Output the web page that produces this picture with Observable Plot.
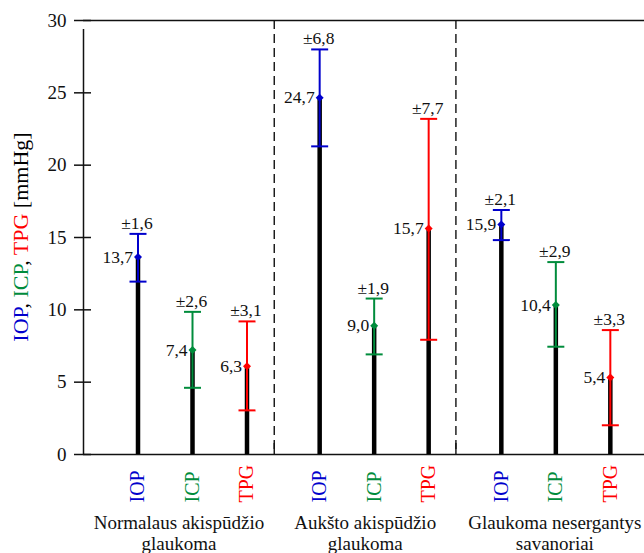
<!DOCTYPE html>
<html><head><meta charset="utf-8">
<script src="https://cdn.jsdelivr.net/npm/d3@7"></script>
<script src="https://cdn.jsdelivr.net/npm/@observablehq/plot@0.6"></script>
<style>body{margin:0;background:#fff} svg text{font-family:"Liberation Serif","Times New Roman",serif}</style>
</head><body><div id="chart"></div>
<script>
const groups = ["Normalaus akispūdžio\nglaukoma", "Aukšto akispūdžio\nglaukoma", "Glaukoma nesergantys\nsavanoriai"];
const measures = ["IOP", "ICP", "TPG"];
const measureColors = ["#0000cc", "#008c3c", "#ff0000"];
const meanLabels = [["13,7", "7,4", "6,3"], ["24,7", "9,0", "15,7"], ["15,9", "10,4", "5,4"]];
const sdLabels = [["±1,6", "±2,6", "±3,1"], ["±6,8", "±1,9", "±7,7"], ["±2,1", "±2,9", "±3,3"]];
const means = [[13.65, 7.23, 6.1], [24.66, 8.9, 15.62], [15.9, 10.34, 5.32]];
const lows = [[11.95, 4.61, 3.05], [21.3, 6.92, 7.93], [14.82, 7.45, 2.02]];
const highs = [[15.25, 9.86, 9.2], [28.0, 10.78, 23.2], [16.9, 13.3, 8.6]];
const yTicks = [0, 5, 10, 15, 20, 25, 30];
const titleParts = [["IOP", "#0000cc"], [", ", "#000"], ["ICP", "#008c3c"], [", ", "#000"], ["TPG", "#ff0000"], [" [mmHg]", "#000"]];

const groupStep = 10 / 3;
const rows = [];
groups.forEach((g, gi) => measures.forEach((m, mi) => rows.push({
  group: gi, measure: m, pos: gi * groupStep + mi + 1,
  mean: means[gi][mi], lo: lows[gi][mi], hi: highs[gi][mi],
  meanLabel: meanLabels[gi][mi], sdLabel: sdLabels[gi][mi]
})));
const dividers = [3.5, 3.5 + groupStep];
const groupRows = groups.map((g, gi) => ({label: g, pos: gi * groupStep + 2}));

const capSymbol = {draw(ctx, size) { const r = Math.sqrt(size / Math.PI); ctx.moveTo(-r, 0); ctx.lineTo(r, 0); }};
const font = "Liberation Serif";
const groupDx = [-13.5, -9, -1];

const svg = Plot.plot({
  width: 644, height: 553,
  marginLeft: 83, marginRight: 0, marginTop: 20, marginBottom: 99,
  style: {fontFamily: font, fontSize: "19px", background: "#fff", color: "#000"},
  x: {domain: [0, 561 / 54.5], axis: null},
  y: {domain: [0, 30], axis: null},
  color: {domain: measures, range: measureColors},
  marks: [
    Plot.ruleX(dividers, {stroke: "#111", strokeWidth: 1.4, strokeDasharray: "9,5"}),
    Plot.ruleX(dividers, {y1: 0, y2: 0, insetTop: -11, stroke: "#111", strokeWidth: 1.4}),
    Plot.ruleY([0, 30], {stroke: "#111", strokeWidth: 1.5}),
    Plot.ruleX([0], {y1: 0, y2: 30, insetBottom: -9, stroke: "#111", strokeWidth: 1.5}),
    Plot.axisY({ticks: yTicks, tickSize: 17, dx: 8, text: null, stroke: "#111", strokeWidth: 1.5}),
    Plot.axisY({ticks: yTicks, tickSize: 0, tickPadding: 17, fontSize: 19, fontFamily: font, fill: "#111", tickFormat: d => String(d)}),
    Plot.ruleX(rows, {x: "pos", y1: 0, y2: "mean", stroke: "#000", strokeWidth: 4.5}),
    Plot.ruleX(rows, {x: "pos", y1: "lo", y2: "hi", stroke: "measure", strokeWidth: 2}),
    Plot.dot(rows, {x: "pos", y: "lo", symbol: capSymbol, r: 8.5, stroke: "measure", strokeWidth: 2}),
    Plot.dot(rows, {x: "pos", y: "hi", symbol: capSymbol, r: 8.5, stroke: "measure", strokeWidth: 2}),
    Plot.dot(rows, {x: "pos", y: "mean", symbol: "diamond2", r: 3.6, fill: "measure", stroke: "none"}),
    Plot.text(rows, {x: "pos", y: "mean", text: "meanLabel", textAnchor: "end", lineAnchor: "middle", dx: -5, fontSize: 17.5, fontFamily: font, fill: "#111"}),
    Plot.text(rows, {x: "pos", y: "hi", text: "sdLabel", lineAnchor: "bottom", dy: -5, dx: -1, fontSize: 17.5, fontFamily: font, fill: "#111"}),
    Plot.text(rows, {x: "pos", y: 0, text: "measure", rotate: -90, textAnchor: "start", lineAnchor: "middle", dy: 48, fill: "measure", fontSize: 20, fontFamily: font}),
    ...groupRows.map((g, gi) => Plot.text([g], {x: "pos", y: 0, text: "label", lineAnchor: "top", lineHeight: 1.1, dy: 60, dx: groupDx[gi], fontSize: 19, fontFamily: font, fill: "#111"}))
  ]
});

const title = d3.select(svg).append("text")
  .attr("transform", "translate(28,237) rotate(-90)")
  .attr("text-anchor", "middle")
  .attr("font-family", font)
  .attr("font-size", 22);
titleParts.forEach(([t, c]) => title.append("tspan").attr("fill", c).attr("xml:space", "preserve").text(t));
title.style("white-space", "pre");

document.getElementById("chart").appendChild(svg);
</script>
</body></html>
